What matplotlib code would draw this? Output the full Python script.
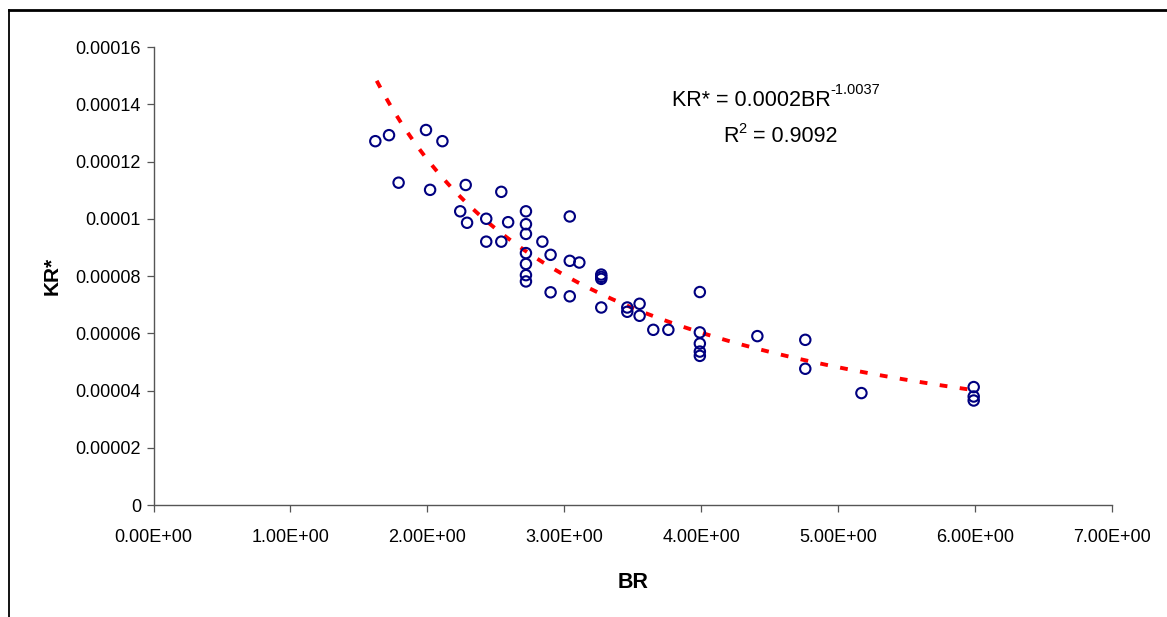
import numpy as np
import matplotlib
matplotlib.use("Agg")
from matplotlib import pyplot as plt
from matplotlib.lines import Line2D

plt.rcParams["font.family"] = ["Liberation Sans", "DejaVu Sans"]

br = [1.62, 1.72, 1.79, 1.99, 2.02, 2.11, 2.24, 2.28, 2.29, 2.43, 2.43,
      2.54, 2.54, 2.59, 2.72, 2.72, 2.72, 2.72, 2.72, 2.72, 2.72, 2.84,
      2.90, 2.90, 3.04, 3.04, 3.04, 3.11, 3.27, 3.27, 3.27, 3.27, 3.46,
      3.46, 3.55, 3.55, 3.65, 3.76, 3.99, 3.99, 3.99, 3.99, 3.99, 4.41,
      4.76, 4.76, 5.17, 5.99, 5.99, 5.99]
kr = [1.271e-4, 1.292e-4, 1.126e-4, 1.310e-4, 1.101e-4, 1.271e-4, 1.026e-4,
      1.118e-4, 0.986e-4, 1.000e-4, 0.920e-4, 1.094e-4, 0.920e-4, 0.988e-4,
      1.026e-4, 0.981e-4, 0.947e-4, 0.880e-4, 0.842e-4, 0.803e-4, 0.781e-4,
      0.920e-4, 0.874e-4, 0.743e-4, 1.008e-4, 0.853e-4, 0.729e-4, 0.847e-4,
      0.805e-4, 0.797e-4, 0.790e-4, 0.690e-4, 0.690e-4, 0.675e-4, 0.703e-4,
      0.661e-4, 0.612e-4, 0.612e-4, 0.744e-4, 0.603e-4, 0.564e-4, 0.536e-4,
      0.521e-4, 0.590e-4, 0.577e-4, 0.476e-4, 0.391e-4, 0.412e-4, 0.379e-4,
      0.365e-4]

# Power trendline as drawn (coefficient shown rounded in the label)
trend_a = 2.42e-4
trend_b = -1.0037
trend_x = np.linspace(1.63, 6.0, 200)
trend_y = trend_a * trend_x ** trend_b

x_ticks = [0, 1, 2, 3, 4, 5, 6, 7]
y_ticks = [0, 0.00002, 0.00004, 0.00006, 0.00008, 0.0001, 0.00012, 0.00014, 0.00016]
y_labels = ["0", "0.00002", "0.00004", "0.00006", "0.00008", "0.0001",
            "0.00012", "0.00014", "0.00016"]

fig = plt.figure(figsize=(11.67, 6.17), dpi=100)
ax = fig.add_axes([153.5 / 1167, 1 - 505 / 617, (1112 - 153.5) / 1167, (505 - 47) / 617])

ax.plot(trend_x, trend_y, color="#ff0000", lw=2.8, dashes=(2.0, 3.2), zorder=2)
ax.scatter(br, kr, s=56, facecolors="none", edgecolors="#000080",
           linewidths=1.5, zorder=3)

ax.set_xlim(0, 7)
ax.set_ylim(0, 0.00016)
ax.set_xticks(x_ticks)
ax.set_xticklabels([f"{v:.2E}" for v in x_ticks], fontsize=13)
ax.set_yticks(y_ticks)
ax.set_yticklabels(y_labels, fontsize=13)

for s in ["top", "right"]:
    ax.spines[s].set_visible(False)
for s in ["left", "bottom"]:
    ax.spines[s].set_color("#555555")
    ax.spines[s].set_linewidth(1.0)
ax.tick_params(direction="out", length=5, width=0.9, color="#555555", pad=4)
ax.tick_params(axis="x", pad=12)

ax.set_xlabel("BR", fontsize=15.5, fontweight="bold", labelpad=19)
ax.set_ylabel("KR*", fontsize=15, fontweight="bold", labelpad=10)

# trendline label, superscripts as separate texts so the hyphen stays a hyphen
eq = fig.text(672 / 1167, 1 - 100 / 617, "KR* = 0.0002BR",
              fontsize=15.5, va="center", ha="left")
ax.annotate("-1.0037", xy=(1.0, 0.62), xycoords=eq, fontsize=10.5,
            va="bottom", ha="left")
r2 = fig.text(723 / 1167, 1 - 137 / 617, "R", fontsize=15.5,
              va="center", ha="left")
sq = ax.annotate("2", xy=(1.0, 0.55), xycoords=r2, fontsize=10.5,
                 va="bottom", ha="left")
ax.annotate(" = 0.9092", xy=(1.0, 0.0), xycoords=(sq, r2), fontsize=15.5,
            va="bottom", ha="left")

# outer chart frame (top and left edges visible)
fig.add_artist(Line2D([8.5 / 1167, 8.5 / 1167], [0, 1 - 10 / 617],
                      color="black", lw=1.3, transform=fig.transFigure))
fig.add_artist(Line2D([8.5 / 1167, 1], [1 - 10 / 617, 1 - 10 / 617],
                      color="black", lw=2.0, transform=fig.transFigure))

fig.savefig("out.png", dpi=100)
